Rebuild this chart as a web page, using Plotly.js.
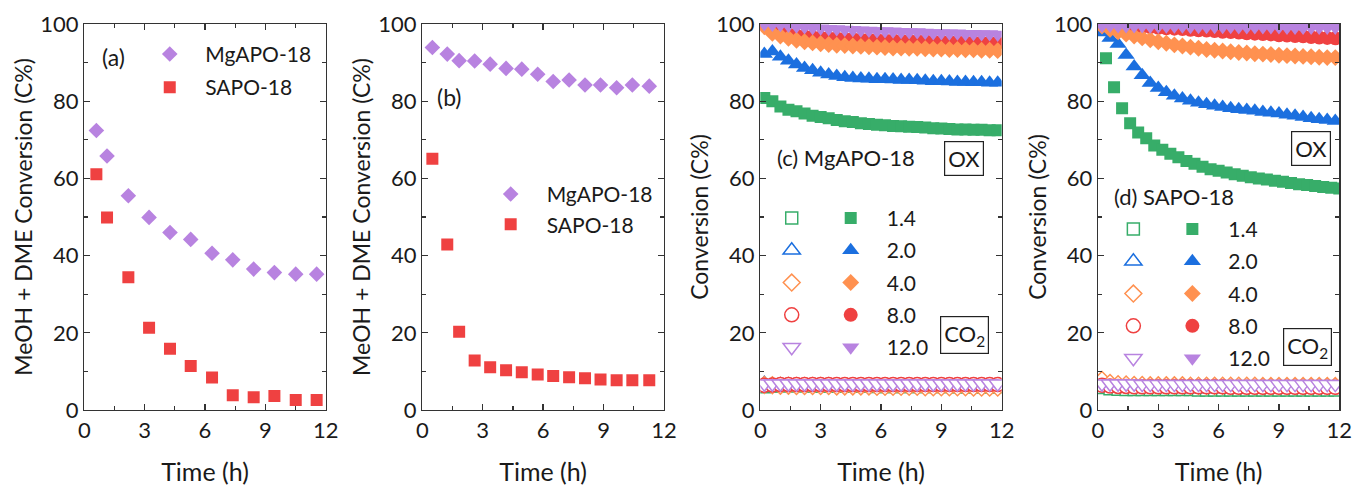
<!DOCTYPE html>
<html>
<head>
<meta charset="utf-8">
<script src="https://cdn.plot.ly/plotly-3.0.1.min.js"></script>
<style>html,body{margin:0;padding:0;background:#fff;}#chart{width:1352px;height:486px;}</style>
</head>
<body>
<div id="chart"></div>
<script>
// ---------- DATA ----------
// Panel (a)
const tA = [0.6, 1.13, 2.19, 3.22, 4.26, 5.29, 6.35, 7.38, 8.42, 9.45, 10.51, 11.55];
const aMgAPO = [72.4, 65.8, 55.5, 49.9, 46.0, 44.2, 40.6, 38.9, 36.5, 35.6, 35.2, 35.2];
const aSAPO = [61.1, 49.9, 34.4, 21.3, 15.9, 11.4, 8.4, 3.8, 3.3, 3.6, 2.6, 2.6];
// Panel (b)
const tB = [0.5, 1.24, 1.83, 2.6, 3.37, 4.16, 4.94, 5.73, 6.5, 7.29, 8.08, 8.85, 9.65, 10.43, 11.27];
const bMgAPO = [93.9, 92.2, 90.5, 90.4, 89.6, 88.5, 88.3, 87.0, 85.1, 85.5, 84.2, 84.2, 83.5, 84.2, 83.9];
const bSAPO = [65.1, 42.9, 20.3, 12.8, 11.1, 10.3, 9.8, 9.2, 8.8, 8.5, 8.2, 7.9, 7.7, 7.7, 7.7];
// Panels (c),(d) time grids
const tGrid = [0.2, 0.6, 1.0, 1.4, 1.8, 2.2, 2.6, 3.0, 3.4, 3.8, 4.2, 4.6, 5.0, 5.4, 5.8, 6.2, 6.6, 7.0, 7.4, 7.8, 8.2, 8.6, 9.0, 9.4, 9.8, 10.2, 10.6, 11.0, 11.4, 11.8];
const tGrid2 = [0.4, 0.8, 1.2, 1.6, 2.0, 2.4, 2.8, 3.2, 3.6, 4.0, 4.4, 4.8, 5.2, 5.6, 6.0, 6.4, 6.8, 7.2, 7.6, 8.0, 8.4, 8.8, 9.2, 9.6, 10.0, 10.4, 10.8, 11.2, 11.6, 12.0];
const ratioLabels = ["1.4", "2.0", "4.0", "8.0", "12.0"];
// Panel (c) MgAPO-18, OX conversion
const cOx14 = [80.8, 80.0, 78.6, 77.8, 77.4, 76.8, 76.2, 75.9, 75.6, 75.1, 74.8, 74.6, 74.3, 74.1, 73.9, 73.8, 73.6, 73.5, 73.4, 73.3, 73.2, 73.0, 72.9, 72.8, 72.7, 72.7, 72.6, 72.6, 72.5, 72.5];
const cOx20 = [92.2, 92.9, 91.5, 90.5, 89.5, 88.6, 88.0, 87.4, 86.9, 86.5, 86.2, 86.0, 85.9, 85.8, 85.7, 85.7, 85.6, 85.5, 85.5, 85.4, 85.3, 85.2, 85.2, 85.1, 85.0, 85.0, 84.9, 84.9, 84.8, 84.8];
const cOx40 = [99.3, 97.6, 96.9, 96.3, 95.8, 95.4, 95.1, 94.9, 94.7, 94.5, 94.4, 94.3, 94.2, 94.1, 94.0, 93.9, 93.8, 93.8, 93.7, 93.7, 93.6, 93.5, 93.5, 93.4, 93.4, 93.3, 93.3, 93.2, 93.2, 93.1];
const cOx80 = [99.8, 98.6, 97.9, 97.4, 97.0, 96.8, 96.6, 96.5, 96.4, 96.3, 96.2, 96.1, 96.0, 96.0, 95.9, 95.8, 95.8, 95.7, 95.7, 95.6, 95.6, 95.5, 95.5, 95.4, 95.4, 95.3, 95.3, 95.2, 95.2, 95.1];
const cOx120 = [100.0, 99.9, 99.8, 99.6, 99.4, 99.2, 99.0, 98.9, 98.8, 98.7, 98.6, 98.5, 98.4, 98.3, 98.2, 98.2, 98.1, 98.0, 97.9, 97.9, 97.8, 97.7, 97.7, 97.6, 97.6, 97.5, 97.5, 97.4, 97.4, 97.3];
// Panel (c) MgAPO-18, CO2 conversion
const cCo14 = [6.0, 6.2, 6.3, 6.3, 6.3, 6.3, 6.2, 6.2, 6.2, 6.2, 6.2, 6.2, 6.2, 6.2, 6.1, 6.1, 6.1, 6.1, 6.1, 6.1, 6.1, 6.1, 6.1, 6.1, 6.0, 6.0, 6.0, 6.0, 6.0, 6.0];
const cCo20 = [6.8, 6.5, 6.4, 6.3, 6.3, 6.3, 6.3, 6.3, 6.2, 6.2, 6.2, 6.2, 6.2, 6.2, 6.2, 6.2, 6.1, 6.1, 6.1, 6.1, 6.1, 6.1, 6.1, 6.1, 6.1, 6.0, 6.0, 6.0, 6.0, 6.0];
const cCo40 = [6.5, 6.4, 6.3, 6.3, 6.2, 6.2, 6.2, 6.2, 6.2, 6.1, 6.1, 6.1, 6.1, 6.1, 6.0, 6.0, 6.0, 6.0, 6.0, 6.0, 5.9, 5.9, 5.9, 5.9, 5.9, 5.9, 5.8, 5.8, 5.8, 5.8];
const cCo80 = [6.4, 6.5, 6.6, 6.6, 6.6, 6.6, 6.6, 6.6, 6.6, 6.6, 6.6, 6.6, 6.6, 6.6, 6.6, 6.6, 6.6, 6.6, 6.6, 6.6, 6.6, 6.6, 6.6, 6.6, 6.6, 6.6, 6.6, 6.6, 6.6, 6.6];
const cCo120 = [6.8, 6.8, 6.8, 6.8, 6.8, 6.8, 6.8, 6.8, 6.8, 6.8, 6.8, 6.8, 6.8, 6.8, 6.8, 6.8, 6.8, 6.8, 6.8, 6.8, 6.8, 6.8, 6.8, 6.8, 6.8, 6.8, 6.8, 6.8, 6.8, 6.8];
// Panel (d) SAPO-18, OX conversion
const dOx14 = [91.1, 83.6, 78.2, 74.3, 71.9, 70.4, 68.5, 67.4, 66.4, 65.5, 64.5, 63.8, 63.0, 62.4, 62.0, 61.5, 61.1, 60.7, 60.3, 60.0, 59.7, 59.4, 59.1, 58.8, 58.5, 58.3, 58.0, 57.8, 57.6, 57.4];
const dOx20 = [97.8, 96.4, 94.8, 92.0, 89.0, 86.7, 84.7, 83.4, 82.3, 81.4, 80.7, 80.1, 79.6, 79.2, 78.8, 78.5, 78.2, 77.9, 77.7, 77.5, 77.2, 77.0, 76.8, 76.5, 76.2, 75.9, 75.6, 75.3, 75.1, 74.9];
const dOx40 = [99.5, 98.6, 98.0, 97.4, 96.9, 96.4, 95.9, 95.4, 95.0, 94.6, 94.3, 94.0, 93.7, 93.4, 93.2, 93.0, 92.8, 92.6, 92.5, 92.3, 92.2, 92.1, 91.9, 91.8, 91.7, 91.6, 91.5, 91.4, 91.3, 91.3];
const dOx80 = [99.8, 99.7, 99.6, 99.5, 99.4, 99.3, 99.2, 99.0, 98.9, 98.8, 98.7, 98.5, 98.4, 98.3, 98.2, 98.0, 97.9, 97.8, 97.6, 97.5, 97.4, 97.3, 97.1, 97.0, 96.9, 96.8, 96.6, 96.5, 96.4, 96.3];
const dOx120 = [99.6, 99.6, 99.5, 99.5, 99.5, 99.5, 99.4, 99.4, 99.4, 99.4, 99.4, 99.3, 99.3, 99.3, 99.3, 99.3, 99.3, 99.2, 99.2, 99.2, 99.2, 99.2, 99.2, 99.1, 99.1, 99.1, 99.1, 99.1, 99.1, 99.1];
// Panel (d) SAPO-18, CO2 conversion
const dCo14 = [5.8, 5.5, 5.4, 5.3, 5.3, 5.3, 5.3, 5.3, 5.3, 5.3, 5.3, 5.3, 5.2, 5.2, 5.2, 5.2, 5.2, 5.2, 5.2, 5.2, 5.2, 5.2, 5.2, 5.2, 5.2, 5.2, 5.2, 5.2, 5.2, 5.2];
const dCo20 = [6.8, 6.0, 5.8, 5.7, 5.6, 5.6, 5.6, 5.6, 5.6, 5.6, 5.5, 5.5, 5.5, 5.5, 5.5, 5.5, 5.5, 5.5, 5.5, 5.5, 5.5, 5.5, 5.5, 5.5, 5.5, 5.5, 5.5, 5.5, 5.5, 5.5];
const dCo40 = [7.8, 7.0, 6.7, 6.6, 6.5, 6.5, 6.4, 6.4, 6.4, 6.4, 6.4, 6.3, 6.3, 6.3, 6.3, 6.3, 6.3, 6.3, 6.3, 6.3, 6.2, 6.2, 6.2, 6.2, 6.2, 6.2, 6.2, 6.2, 6.2, 6.2];
const dCo80 = [6.4, 6.2, 6.1, 6.1, 6.0, 6.0, 6.0, 6.0, 6.0, 6.0, 6.0, 6.0, 6.0, 6.0, 6.0, 6.0, 5.9, 5.9, 5.9, 5.9, 5.9, 5.9, 5.9, 5.9, 5.9, 5.9, 5.9, 5.9, 5.9, 5.9];
const dCo120 = [6.8, 6.8, 6.8, 6.8, 6.8, 6.7, 6.7, 6.7, 6.7, 6.7, 6.7, 6.7, 6.7, 6.7, 6.7, 6.7, 6.7, 6.7, 6.7, 6.7, 6.7, 6.7, 6.7, 6.7, 6.7, 6.7, 6.7, 6.7, 6.7, 6.7];

// ---------- STYLE ----------
const FONT = 'Lato, "Open Sans", sans-serif';
const INK = '#1a1a1a';
const PURPLE = '#b883e0';
const RED = '#ef4141';
const GREEN = '#37ad69';
const BLUE = '#1b6fdf';
const ORANGE = '#ff9150';
const RATIO_COLORS = [GREEN, BLUE, ORANGE, RED, PURPLE];
const FILLED = ['square', 'triangle-up', 'diamond', 'circle', 'triangle-down'];
const SIZES = [12, 15, 13, 14, 15];

const traces = [];
// (a)
traces.push({x: tA, y: aMgAPO, xaxis: 'x', yaxis: 'y', mode: 'markers', name: 'MgAPO-18', legend: 'legend', legendgroup: 'a1',
  marker: {symbol: 'diamond', size: 12, color: PURPLE}});
traces.push({x: tA, y: aSAPO, xaxis: 'x', yaxis: 'y', mode: 'markers', name: 'SAPO-18', legend: 'legend', legendgroup: 'a2',
  marker: {symbol: 'square', size: 12, color: RED}});
// (b)
traces.push({x: tB, y: bMgAPO, xaxis: 'x2', yaxis: 'y2', mode: 'markers', name: 'MgAPO-18', legend: 'legend2', legendgroup: 'b1',
  marker: {symbol: 'diamond', size: 12, color: PURPLE}});
traces.push({x: tB, y: bSAPO, xaxis: 'x2', yaxis: 'y2', mode: 'markers', name: 'SAPO-18', legend: 'legend2', legendgroup: 'b2',
  marker: {symbol: 'square', size: 12, color: RED}});

function addPanel(xa, ya, oxSeries, coSeries, oxTimes, legOpen, legFilled, tag) {
  const coOrder = [0, 1, 2, 3, 4];
  coOrder.forEach(function (i) {
    traces.push({x: tGrid, y: coSeries[i], xaxis: xa, yaxis: ya, mode: 'markers', name: '',
      legend: legOpen, legendgroup: tag + 'o' + i, legendrank: 1000 + i,
      marker: {symbol: FILLED[i], size: SIZES[i], color: '#ffffff', line: {color: RATIO_COLORS[i], width: 1.5}}});
  });
  const oxOrder = [0, 1, 3, 2, 4];
  oxOrder.forEach(function (i) {
    traces.push({x: oxTimes[i], y: oxSeries[i], xaxis: xa, yaxis: ya, mode: 'markers', name: ratioLabels[i],
      legend: legFilled, legendgroup: tag + 'f' + i, legendrank: 1000 + i,
      marker: {symbol: FILLED[i], size: SIZES[i], color: RATIO_COLORS[i], line: {width: 0}}});
  });
}
addPanel('x3', 'y3', [cOx14, cOx20, cOx40, cOx80, cOx120], [cCo14, cCo20, cCo40, cCo80, cCo120],
  [tGrid, tGrid, tGrid, tGrid, tGrid], 'legend3', 'legend4', 'c');
addPanel('x4', 'y4', [dOx14, dOx20, dOx40, dOx80, dOx120], [dCo14, dCo20, dCo40, dCo80, dCo120],
  [tGrid2, tGrid, tGrid, tGrid, tGrid], 'legend5', 'legend6', 'd');

function xAxis(domain, anchor) {
  return {domain: domain, anchor: anchor, range: [0, 12], tick0: 0, dtick: 3,
    ticks: 'inside', ticklen: 6, tickwidth: 1.3, tickcolor: '#333',
    showline: true, linecolor: '#333', linewidth: 1.3, mirror: 'allticks',
    showgrid: false, zeroline: false, ticklabeloverflow: 'allow',
    minor: {dtick: 1.5, ticks: 'inside', ticklen: 4, tickwidth: 1.3, tickcolor: '#333', showgrid: false},
    tickfont: {family: FONT, size: 22, color: INK},
    title: {text: 'Time (h)', font: {family: FONT, size: 25, color: INK}, standoff: 27},
    automargin: false, fixedrange: true};
}
function yAxis(anchor, title) {
  return {domain: [0, 1], anchor: anchor, range: [0, 100], tick0: 0, dtick: 20,
    ticks: 'inside', ticklen: 6, tickwidth: 1.3, tickcolor: '#333',
    showline: true, linecolor: '#333', linewidth: 1.3, mirror: 'allticks',
    showgrid: false, zeroline: false, ticklabeloverflow: 'allow',
    minor: {dtick: 10, ticks: 'inside', ticklen: 4, tickwidth: 1.3, tickcolor: '#333', showgrid: false},
    tickfont: {family: FONT, size: 22, color: INK},
    title: {text: title, font: {family: FONT, size: 23, color: INK}, standoff: 1},
    automargin: false, fixedrange: true};
}
function legendCfg(x, y, size, itemwidth, gap) {
  return {x: x, y: y, xanchor: 'left', yanchor: 'top', bgcolor: 'rgba(0,0,0,0)', borderwidth: 0,
    font: {family: FONT, size: size, color: INK}, itemwidth: itemwidth, tracegroupgap: gap,
    traceorder: 'grouped', itemclick: false, itemdoubleclick: false};
}
function note(text, xref, yref, x, y, anchor, size, boxed) {
  const a = {text: text, xref: xref, yref: yref, x: x, y: y, xanchor: anchor, yanchor: 'middle', showarrow: false,
    font: {family: FONT, size: size, color: INK}};
  if (boxed) { a.bordercolor = '#222'; a.borderwidth = 1.2; a.borderpad = 3; a.bgcolor = '#ffffff'; }
  return a;
}

const layout = {
  width: 1352, height: 486,
  margin: {l: 0, r: 0, t: 24, b: 76, pad: 0},
  paper_bgcolor: '#ffffff', plot_bgcolor: 'rgba(0,0,0,0)',
  font: {family: FONT, color: INK},
  showlegend: true,
  xaxis: xAxis([0.06235, 0.2409], 'y'),
  yaxis: yAxis('x', 'MeOH + DME Conversion (C%)'),
  xaxis2: xAxis([0.31235, 0.4911], 'y2'),
  yaxis2: yAxis('x2', 'MeOH + DME Conversion (C%)'),
  xaxis3: xAxis([0.56235, 0.7409], 'y3'),
  yaxis3: yAxis('x3', 'Conversion (C%)'),
  xaxis4: xAxis([0.8121, 0.9906], 'y4'),
  yaxis4: yAxis('x4', 'Conversion (C%)'),
  legend: legendCfg(0.0993, 0.9745, 21, 61, 3),
  legend2: legendCfg(0.3511, 0.6116, 21, 62, 0),
  legend3: legendCfg(0.5708, 0.5497, 21, 30, 2),
  legend4: legendCfg(0.6026, 0.5497, 21, 62, 2),
  legend5: legendCfg(0.8235, 0.5212, 21, 30, 2),
  legend6: legendCfg(0.8553, 0.5212, 21, 62, 2),
  annotations: [
    note('(a)', 'x', 'y', 1.43, 91.5, 'center', 23, false),
    note('(b)', 'x2', 'y2', 1.33, 81.2, 'center', 23, false),
    note('(c) MgAPO-18', 'x3', 'y3', 0.73, 65.4, 'left', 22, false),
    note('OX', 'x3', 'y3', 10.15, 65.2, 'center', 22, true),
    note('CO<sub>2</sub>', 'x3', 'y3', 10.15, 19.4, 'center', 22, true),
    note('(d) SAPO-18', 'x4', 'y4', 0.68, 55.3, 'left', 22, false),
    note('OX', 'x4', 'y4', 10.58, 67.7, 'center', 22, true),
    note('CO<sub>2</sub>', 'x4', 'y4', 10.43, 16.2, 'center', 22, true)
  ]
};

Plotly.newPlot('chart', traces, layout, {displayModeBar: false, staticPlot: true});
</script>
</body>
</html>
